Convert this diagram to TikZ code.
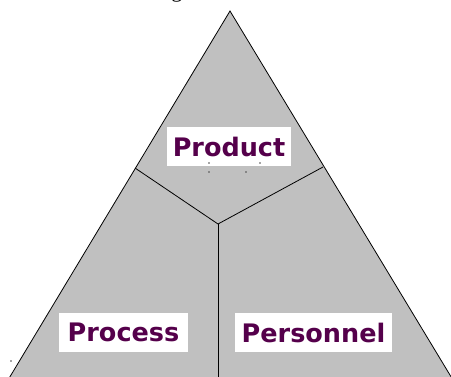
\documentclass[tikz,border=0pt]{standalone}
\usepackage{fontspec}
\setmainfont{DejaVu Sans}
\newfontfamily\serifg{Liberation Serif}
\definecolor{fillgray}{RGB}{192,192,192}
\definecolor{labelpurple}{RGB}{85,0,75}
\tikzset{
  edge/.style={draw=black, line width=0.8pt},
  labelbox/.style={fill=white, draw=none, inner sep=0pt, minimum height=39pt,
    text=labelpurple, font=\fontsize{25.5}{28}\selectfont\bfseries, anchor=center},
  speck/.style={fill=black!70, draw=none, circle, inner sep=0pt, minimum size=1.6pt}
}
\begin{document}
\begin{tikzpicture}[x=1pt,y=-1pt]
\useasboundingbox (0,0) rectangle (451,376);
\fill[white] (0,0) rectangle (451,376);
% title fragment (only the descender of a cut-off title shows)
\node[anchor=base, font=\serifg\fontsize{22}{24}\selectfont, inner sep=0pt] (title) at (177,-2.5) {g};
\begin{scope}
\clip (0,0) rectangle (451,376);
\coordinate (apex) at (230,11);
\coordinate (bl) at (8,380);
\coordinate (br) at (453,380);
\coordinate (jl) at (135,168);
\coordinate (jr) at (323,167);
\coordinate (ctr) at (218,224);
\coordinate (cb) at (218,380);
\fill[fillgray] (apex) -- (bl) -- (br) -- cycle;
\draw[edge] (bl) -- (apex) -- (br);
\draw[edge] (jl) -- (ctr) -- (jr);
\draw[edge] (ctr) -- (cb);
\end{scope}
\node[labelbox, minimum width=124pt] (product) at (229,146.5) {Product};
\node[labelbox, minimum width=129pt] (process) at (123.5,332.5) {Process};
\node[labelbox, minimum width=157pt] (personnel) at (313.5,332.5) {Personnel};
\node[speck] (s1) at (209,163) {};
\node[speck] (s2) at (260,163) {};
\node[speck] (s3) at (209,172) {};
\node[speck] (s4) at (246,172) {};
\node[speck] (s5) at (11,361) {};
\end{tikzpicture}
\end{document}
